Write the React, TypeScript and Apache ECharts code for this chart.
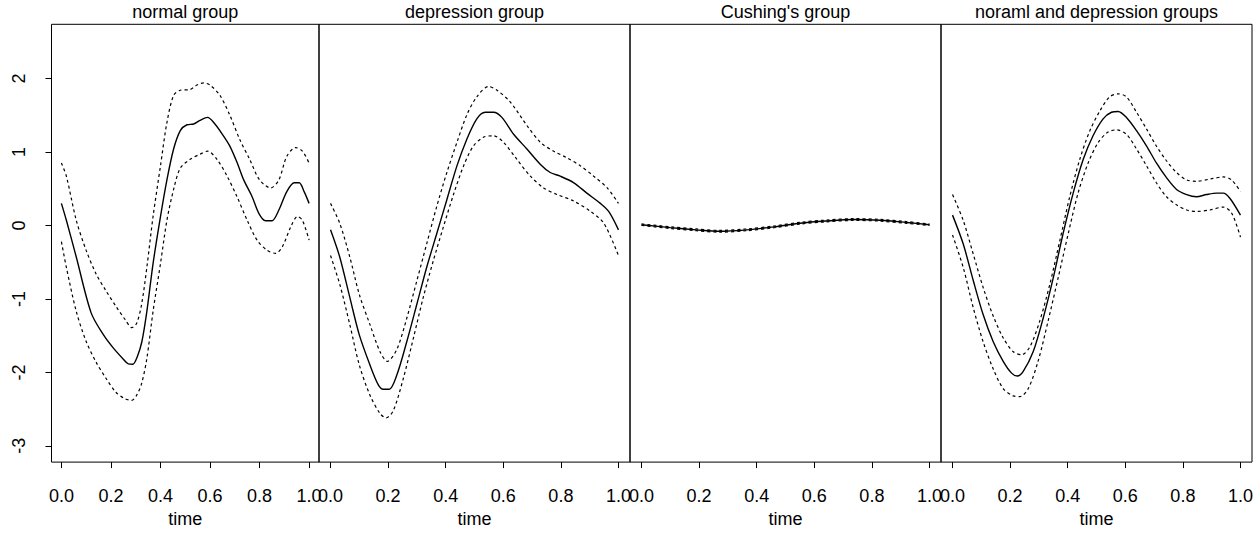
import React, { useEffect, useRef } from "react";
import * as echarts from "echarts";

// ---------- data (time, value) ----------
const titles = ["normal group", "depression group", "Cushing's group", "noraml and depression groups"];
const xTicks = [0, 0.2, 0.4, 0.6, 0.8, 1.0];
const yTicks = [-3, -2, -1, 0, 1, 2];

const normalMean = [
  [0, 0.3], [0.02, 0.07], [0.06, -0.43], [0.12, -1.19], [0.17, -1.49], [0.21, -1.67], [0.25, -1.82],
  [0.27, -1.885], [0.288, -1.89], [0.307, -1.78], [0.325, -1.58], [0.345, -1.17], [0.37, -0.52],
  [0.4, 0.12], [0.426, 0.62], [0.453, 1.04], [0.48, 1.29], [0.507, 1.37], [0.534, 1.38], [0.56, 1.43],
  [0.59, 1.47], [0.615, 1.4], [0.65, 1.24], [0.68, 1.08], [0.71, 0.85], [0.736, 0.62], [0.77, 0.39],
  [0.797, 0.165], [0.824, 0.064], [0.85, 0.064], [0.878, 0.21], [0.91, 0.46], [0.94, 0.58],
  [0.96, 0.58], [0.98, 0.46], [1.0, 0.3],
];
const normalUpper = [
  [0, 0.85], [0.02, 0.67], [0.06, 0.07], [0.1, -0.34], [0.14, -0.66], [0.18, -0.89], [0.22, -1.1],
  [0.257, -1.28], [0.284, -1.39], [0.304, -1.33], [0.324, -1.07], [0.345, -0.57], [0.37, 0.12],
  [0.4, 0.81], [0.426, 1.4], [0.453, 1.77], [0.48, 1.84], [0.52, 1.85], [0.547, 1.91], [0.574, 1.94],
  [0.6, 1.91], [0.64, 1.77], [0.68, 1.5], [0.72, 1.17], [0.76, 0.9], [0.8, 0.62], [0.845, 0.51],
  [0.878, 0.62], [0.91, 0.94], [0.946, 1.06], [0.973, 1.01], [1.0, 0.85],
];
const normalLower = [
  [0, -0.22], [0.02, -0.57], [0.06, -1.17], [0.1, -1.58], [0.14, -1.86], [0.18, -2.08], [0.22, -2.27],
  [0.257, -2.36], [0.284, -2.38], [0.304, -2.31], [0.324, -2.15], [0.345, -1.81], [0.37, -1.17],
  [0.4, -0.52], [0.426, 0.07], [0.453, 0.49], [0.48, 0.78], [0.52, 0.9], [0.56, 0.97], [0.59, 1.01],
  [0.628, 0.9], [0.669, 0.67], [0.709, 0.39], [0.75, 0.07], [0.79, -0.2], [0.831, -0.34],
  [0.865, -0.38], [0.892, -0.29], [0.926, -0.02], [0.953, 0.12], [0.973, 0.07], [1.0, -0.2],
];

const depMean = [
  [0, -0.06], [0.032, -0.43], [0.067, -0.98], [0.1, -1.49], [0.137, -1.9], [0.166, -2.17],
  [0.183, -2.23], [0.204, -2.23], [0.23, -2.04], [0.265, -1.58], [0.3, -1.07], [0.334, -0.57],
  [0.369, -0.11], [0.404, 0.35], [0.439, 0.81], [0.473, 1.17], [0.508, 1.45], [0.537, 1.54],
  [0.566, 1.54], [0.595, 1.47], [0.636, 1.24], [0.682, 1.04], [0.729, 0.83], [0.763, 0.72],
  [0.798, 0.67], [0.845, 0.58], [0.89, 0.44], [0.937, 0.3], [0.966, 0.19], [1.0, -0.06],
];
const depUpper = [
  [0, 0.3], [0.032, 0.03], [0.067, -0.43], [0.1, -0.94], [0.137, -1.35], [0.172, -1.72],
  [0.197, -1.85], [0.23, -1.69], [0.265, -1.26], [0.3, -0.75], [0.334, -0.25], [0.369, 0.26],
  [0.404, 0.72], [0.439, 1.13], [0.473, 1.5], [0.508, 1.75], [0.549, 1.89], [0.578, 1.84],
  [0.624, 1.68], [0.682, 1.36], [0.729, 1.13], [0.775, 1.01], [0.821, 0.92], [0.868, 0.81],
  [0.914, 0.67], [0.961, 0.51], [1.0, 0.3],
];
const depLower = [
  [0, -0.41], [0.032, -0.8], [0.067, -1.35], [0.1, -1.9], [0.137, -2.31], [0.172, -2.56],
  [0.193, -2.62], [0.218, -2.52], [0.253, -2.08], [0.288, -1.53], [0.322, -0.98], [0.357, -0.48],
  [0.392, -0.02], [0.427, 0.42], [0.462, 0.81], [0.496, 1.08], [0.531, 1.2], [0.566, 1.22],
  [0.601, 1.13], [0.647, 0.9], [0.694, 0.67], [0.74, 0.51], [0.787, 0.42], [0.845, 0.33],
  [0.903, 0.19], [0.949, 0.03], [1.0, -0.41],
];

const cushMean = [
  [0, 0.01], [0.1, -0.03], [0.19, -0.06], [0.27, -0.08], [0.366, -0.06], [0.46, -0.02], [0.55, 0.03],
  [0.64, 0.06], [0.736, 0.08], [0.83, 0.07], [0.92, 0.04], [1.0, 0.01],
];
const cushUpper = [
  [0, 0.02], [0.1, -0.018], [0.19, -0.048], [0.27, -0.068], [0.366, -0.048], [0.46, -0.008],
  [0.55, 0.042], [0.64, 0.072], [0.736, 0.092], [0.83, 0.082], [0.92, 0.052], [1.0, 0.02],
];
const cushLower = [
  [0, 0.0], [0.1, -0.042], [0.19, -0.072], [0.27, -0.092], [0.366, -0.072], [0.46, -0.032],
  [0.55, 0.018], [0.64, 0.048], [0.736, 0.068], [0.83, 0.058], [0.92, 0.028], [1.0, 0.0],
];

const ndMean = [
  [0, 0.14], [0.037, -0.25], [0.072, -0.75], [0.106, -1.21], [0.141, -1.58], [0.176, -1.85],
  [0.205, -2.01], [0.225, -2.05], [0.245, -1.99], [0.28, -1.72], [0.315, -1.26], [0.35, -0.71],
  [0.384, -0.11], [0.419, 0.44], [0.454, 0.9], [0.488, 1.22], [0.523, 1.45], [0.552, 1.54],
  [0.575, 1.55], [0.604, 1.47], [0.639, 1.29], [0.674, 1.08], [0.708, 0.85], [0.743, 0.65],
  [0.778, 0.49], [0.813, 0.42], [0.847, 0.39], [0.882, 0.42], [0.917, 0.44], [0.94, 0.44],
  [0.963, 0.37], [1.0, 0.14],
];
const ndUpper = [
  [0, 0.42], [0.037, 0.07], [0.072, -0.39], [0.106, -0.84], [0.141, -1.23], [0.176, -1.53],
  [0.211, -1.72], [0.24, -1.76], [0.269, -1.65], [0.303, -1.3], [0.338, -0.8], [0.373, -0.2],
  [0.407, 0.39], [0.442, 0.9], [0.477, 1.29], [0.512, 1.56], [0.546, 1.75], [0.575, 1.79],
  [0.604, 1.75], [0.639, 1.54], [0.674, 1.31], [0.708, 1.08], [0.743, 0.88], [0.778, 0.72],
  [0.813, 0.62], [0.847, 0.6], [0.894, 0.63], [0.94, 0.66], [0.969, 0.62], [1.0, 0.46],
];
const ndLower = [
  [0, -0.13], [0.037, -0.57], [0.072, -1.12], [0.106, -1.58], [0.141, -1.95], [0.176, -2.22],
  [0.211, -2.32], [0.234, -2.33], [0.263, -2.22], [0.297, -1.85], [0.332, -1.3], [0.367, -0.71],
  [0.402, -0.11], [0.436, 0.44], [0.471, 0.85], [0.506, 1.13], [0.54, 1.27], [0.569, 1.3],
  [0.604, 1.24], [0.639, 1.04], [0.674, 0.81], [0.708, 0.58], [0.743, 0.39], [0.778, 0.28],
  [0.813, 0.21], [0.847, 0.19], [0.894, 0.21], [0.94, 0.25], [0.969, 0.17], [1.0, -0.16],
];

const panelMeans = [normalMean, depMean, cushMean, ndMean];
const panelUppers = [normalUpper, depUpper, cushUpper, ndUpper];
const panelLowers = [normalLower, depLower, cushLower, ndLower];

// ---------- layout ----------
const FONT = "Liberation Sans, Arial, Helvetica, sans-serif";
const panelLeft = [51.5, 319, 630, 941];
const panelWidth = [267.5, 311, 311, 311];
const plotTop = 24.3;
const plotHeight = 439.7;
const Y_MIN = -3.221;
const Y_MAX = 2.737;

export default function App() {
  const ref = useRef<HTMLDivElement>(null);

  useEffect(() => {
    if (!ref.current) return;
    const chart = echarts.init(ref.current, undefined, { renderer: "svg" });

    const grids = panelLeft.map((l, i) => ({
      left: l,
      top: plotTop,
      width: panelWidth[i],
      height: plotHeight,
      show: true,
      borderColor: "#000",
      borderWidth: 1,
      backgroundColor: "transparent",
      containLabel: false,
    }));

    const xAxes = panelLeft.map((_, i) => ({
      type: "value",
      gridIndex: i,
      position: "bottom",
      min: -0.04,
      max: 1.04,
      name: "time",
      nameLocation: "middle",
      nameGap: 47,
      nameTextStyle: { fontFamily: FONT, fontSize: 18, color: "#000" },
      axisLine: { show: false, onZero: false },
      splitLine: { show: false },
      axisTick: {
        show: true,
        length: 6,
        inside: false,
        customValues: xTicks,
        lineStyle: { color: "#000", width: 1 },
      },
      axisLabel: {
        show: true,
        customValues: xTicks,
        margin: 25,
        fontFamily: FONT,
        fontSize: 18,
        color: "#000",
        formatter: (v: number) => v.toFixed(1),
      },
    }));

    const yAxes = panelLeft.map((_, i) => ({
      type: "value",
      gridIndex: i,
      position: "left",
      min: Y_MIN,
      max: Y_MAX,
      axisLine: { show: false, onZero: false },
      splitLine: { show: false },
      axisTick: {
        show: i === 0,
        length: 6,
        inside: false,
        customValues: yTicks,
        lineStyle: { color: "#000", width: 1 },
      },
      axisLabel: {
        show: i === 0,
        customValues: yTicks,
        rotate: 90,
        margin: 24,
        fontFamily: FONT,
        fontSize: 18,
        color: "#000",
        formatter: (v: number) => String(v),
      },
    }));

    const series: any[] = [];
    for (let i = 0; i < 4; i++) {
      const mk = (data: number[][], dashed: boolean) => ({
        type: "line",
        xAxisIndex: i,
        yAxisIndex: i,
        data,
        showSymbol: false,
        symbol: "none",
        smooth: 0.3,
        lineStyle: {
          color: "#000",
          width: dashed ? 1.2 : 1.4,
          type: dashed ? [3, 3] : "solid",
        },
        z: dashed ? 2 : 3,
      });
      series.push(mk(panelUppers[i], true));
      series.push(mk(panelLowers[i], true));
      series.push(mk(panelMeans[i], false));
    }

    const title = titles.map((t, i) => ({
      text: t,
      left: panelLeft[i] + panelWidth[i] / 2,
      top: 3,
      textAlign: "center",
      padding: 0,
      textStyle: { fontFamily: FONT, fontSize: 18, fontWeight: "normal", color: "#000" },
    }));

    chart.setOption({
      animation: false,
      backgroundColor: "#fff",
      title,
      grid: grids,
      xAxis: xAxes,
      yAxis: yAxes,
      series,
    });

    return () => chart.dispose();
  }, []);

  return (
    <div
      ref={ref}
      style={{ position: "fixed", left: 0, top: 0, width: 1260, height: 533, background: "#fff" }}
    />
  );
}
